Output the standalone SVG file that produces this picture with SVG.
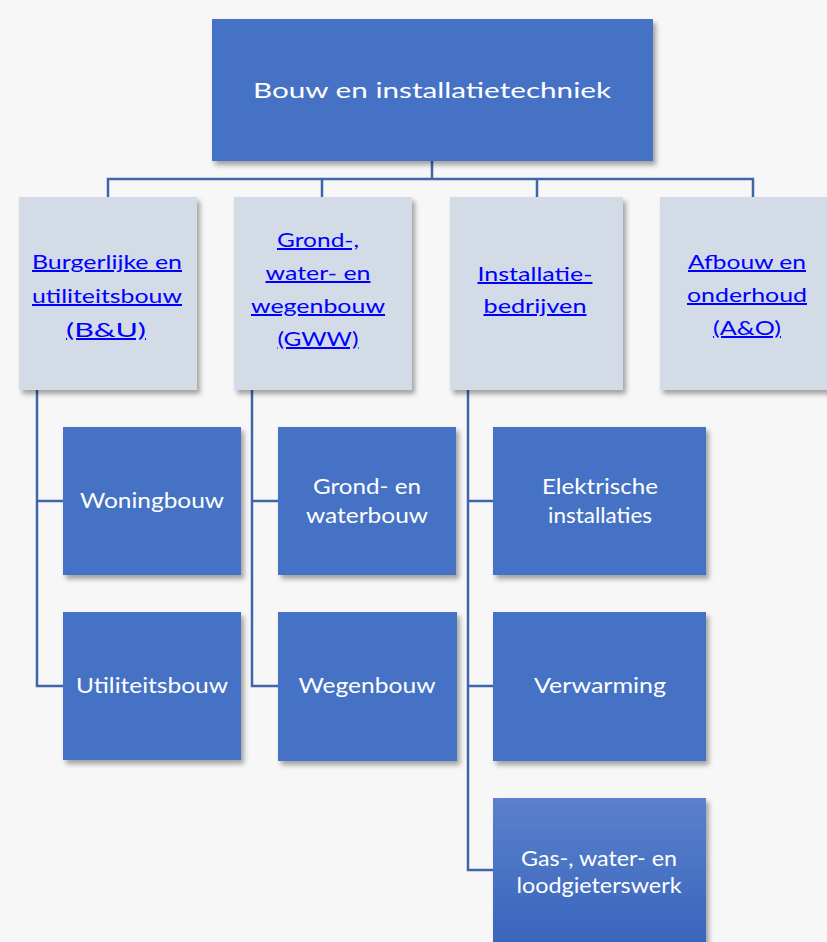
<svg xmlns="http://www.w3.org/2000/svg" width="827" height="942" viewBox="0 0 827 942">
<defs>
<filter id="sh" x="-10%" y="-10%" width="125%" height="125%">
<feDropShadow dx="3" dy="4" stdDeviation="2.5" flood-color="#000" flood-opacity="0.35"/>
</filter>
<linearGradient id="gr" x1="0" y1="0" x2="0" y2="1">
<stop offset="0" stop-color="#5b80cc"/>
<stop offset="1" stop-color="#3563bb"/>
</linearGradient>
</defs>
<style>
.dark{fill:#4472c4;filter:url(#sh)}
.light{fill:#d3dbe6;filter:url(#sh)}
.wt{font-family:Lato,"Open Sans",sans-serif;fill:#ffffff;text-anchor:middle;font-size:22px}
.lk{font-family:Lato,"Open Sans",sans-serif;fill:#0000ff;text-anchor:middle;text-decoration:underline;font-size:20px}
.cn{fill:none;stroke:#4066aa;stroke-width:2.5}
</style>
<rect width="827" height="942" fill="#f7f7f7"/>
<g id="connectors">
<path class="cn" d="M432 161V179M108 197V179H753V197M322 179V197M537 179V197"/>
<path class="cn" d="M37 390V686H63M37 501H63"/>
<path class="cn" d="M252 390V686H278M252 501H278"/>
<path class="cn" d="M468 390V870H493M468 501H493M468 686H493"/>
</g>
<g id="root">
<rect class="dark" x="212" y="19" width="441" height="142"/>
<text class="wt" x="432" y="98" font-size="27" textLength="358" lengthAdjust="spacingAndGlyphs">Bouw en installatietechniek</text>
</g>
<g id="bu">
<rect class="light" x="19" y="197" width="178" height="193"/>
<text class="lk" x="107" y="269" textLength="150" lengthAdjust="spacingAndGlyphs">Burgerlijke en</text>
<text class="lk" x="107" y="303" textLength="150" lengthAdjust="spacingAndGlyphs">utiliteitsbouw</text>
<text class="lk" x="106" y="337" font-size="25" textLength="80" lengthAdjust="spacingAndGlyphs">(B&amp;U)</text>
</g>
<g id="gww">
<rect class="light" x="234" y="197" width="178" height="193"/>
<text class="lk" x="318" y="247" textLength="82" lengthAdjust="spacingAndGlyphs">Grond-,</text>
<text class="lk" x="318" y="280" textLength="105" lengthAdjust="spacingAndGlyphs">water- en</text>
<text class="lk" x="318" y="313" textLength="134" lengthAdjust="spacingAndGlyphs">wegenbouw</text>
<text class="lk" x="318" y="346" textLength="81" lengthAdjust="spacingAndGlyphs">(GWW)</text>
</g>
<g id="inst">
<rect class="light" x="450" y="197" width="173" height="193"/>
<text class="lk" x="535" y="281" textLength="115" lengthAdjust="spacingAndGlyphs">Installatie-</text>
<text class="lk" x="535" y="313" textLength="103" lengthAdjust="spacingAndGlyphs">bedrijven</text>
</g>
<g id="ao">
<rect class="light" x="660" y="197" width="180" height="193"/>
<text class="lk" x="747" y="269" textLength="118" lengthAdjust="spacingAndGlyphs">Afbouw en</text>
<text class="lk" x="747" y="302" textLength="120" lengthAdjust="spacingAndGlyphs">onderhoud</text>
<text class="lk" x="747" y="335" textLength="68" lengthAdjust="spacingAndGlyphs">(A&amp;O)</text>
</g>
<g id="woningbouw">
<rect class="dark" x="63" y="427" width="178" height="148"/>
<text class="wt" x="152" y="508" textLength="144" lengthAdjust="spacingAndGlyphs">Woningbouw</text>
</g>
<g id="utiliteitsbouw">
<rect class="dark" x="63" y="612" width="178" height="148"/>
<text class="wt" x="152" y="693" textLength="152" lengthAdjust="spacingAndGlyphs">Utiliteitsbouw</text>
</g>
<g id="grondwater">
<rect class="dark" x="278" y="427" width="178" height="148"/>
<text class="wt" x="367" y="494" textLength="108" lengthAdjust="spacingAndGlyphs">Grond- en</text>
<text class="wt" x="367" y="523" textLength="122" lengthAdjust="spacingAndGlyphs">waterbouw</text>
</g>
<g id="wegenbouw">
<rect class="dark" x="278" y="612" width="179" height="149"/>
<text class="wt" x="367" y="693" textLength="137" lengthAdjust="spacingAndGlyphs">Wegenbouw</text>
</g>
<g id="elektrisch">
<rect class="dark" x="493" y="427" width="213" height="148"/>
<text class="wt" x="600" y="494" textLength="116" lengthAdjust="spacingAndGlyphs">Elektrische</text>
<text class="wt" x="600" y="523" textLength="104" lengthAdjust="spacingAndGlyphs">installaties</text>
</g>
<g id="verwarming">
<rect class="dark" x="493" y="612" width="213" height="149"/>
<text class="wt" x="600" y="693" textLength="132" lengthAdjust="spacingAndGlyphs">Verwarming</text>
</g>
<g id="gas">
<rect x="493" y="798" width="213" height="160" fill="url(#gr)" filter="url(#sh)"/>
<text class="wt" x="599" y="866" textLength="156" lengthAdjust="spacingAndGlyphs">Gas-, water- en</text>
<text class="wt" x="599" y="893" textLength="165" lengthAdjust="spacingAndGlyphs">loodgieterswerk</text>
</g>
</svg>
